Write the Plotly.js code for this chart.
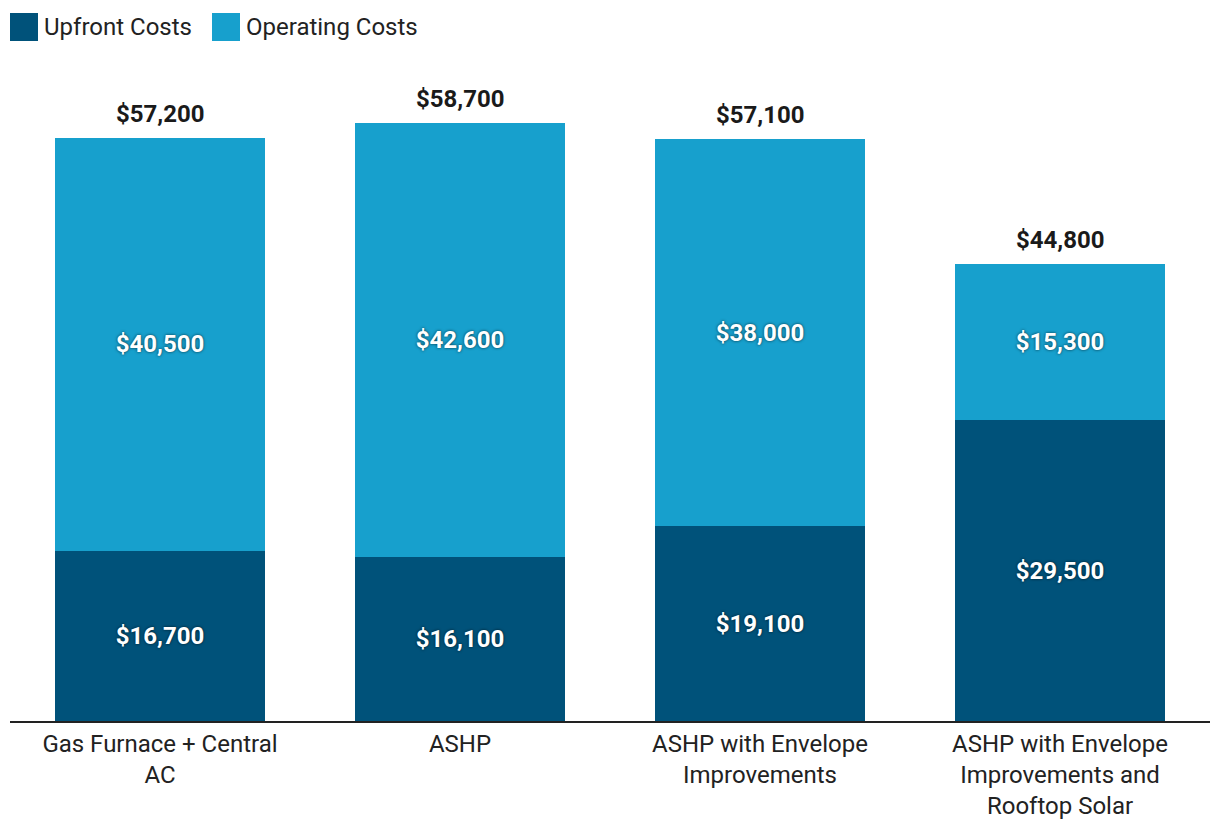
<!DOCTYPE html>
<html><head><meta charset="utf-8">
<script src="https://cdn.plot.ly/plotly-3.0.1.min.js"></script>
<style>html,body{margin:0;padding:0;background:#fff}#chart{width:1220px;height:834px}</style>
</head><body><div id="chart"></div>
<script>
const categories = ["Gas Furnace + Central<br>AC", "ASHP", "ASHP with Envelope<br>Improvements", "ASHP with Envelope<br>Improvements and<br>Rooftop Solar"];
const upfrontCosts = [16700, 16100, 19100, 29500];
const operatingCosts = [40500, 42600, 38000, 15300];
const totals = [57200, 58700, 57100, 44800];
const seriesNames = ["Upfront Costs", "Operating Costs"];
const colors = ["#00527A", "#17A0CD"];

const FONT = "Roboto, 'Open Sans', sans-serif";
const FS = 24;

const common = {
  type: "bar", x: categories, width: 0.7,
  textposition: "inside", insidetextanchor: "middle", constraintext: "none",
  texttemplate: "$%{y:,.0f}",
  insidetextfont: {family: FONT, size: FS, color: "#ffffff", weight: 700, shadow: "0px 0px 3px rgba(0,0,0,0.7)"},
  hoverinfo: "skip", showlegend: false
};
const traces = [
  Object.assign({}, common, {y: upfrontCosts, name: seriesNames[0], marker: {color: colors[0]}}),
  Object.assign({}, common, {y: operatingCosts, name: seriesNames[1], marker: {color: colors[1]}})
];

const annotations = categories.map((c, i) => ({
  x: c, y: totals[i], xref: "x", yref: "y", yanchor: "bottom", yshift: 8,
  text: "$" + totals[i].toLocaleString("en-US"), showarrow: false,
  font: {family: FONT, size: FS, color: "#1a1a1a", weight: 700}
}));

// custom legend
const plotTop = 80, plotBottom = 721, plotLeft = 10, plotRight = 1210;
const ph = plotBottom - plotTop, pw = plotRight - plotLeft;
const px = v => (v - plotLeft) / pw;
const py = v => (plotBottom - v) / ph;
const legendItems = [{x0: 10, tx: 42}, {x0: 212, tx: 244}];
const shapes = legendItems.map((it, i) => ({
  type: "rect", xref: "paper", yref: "paper",
  x0: px(it.x0), x1: px(it.x0 + 28), y0: py(41), y1: py(13),
  fillcolor: colors[i], line: {width: 0}
}));
legendItems.forEach((it, i) => annotations.push({
  xref: "paper", yref: "paper", x: px(it.tx), y: py(27), xanchor: "left", yanchor: "middle",
  text: seriesNames[i], showarrow: false,
  font: {family: FONT, size: FS, color: "#222222"}
}));

const layout = {
  width: 1220, height: 834,
  margin: {l: plotLeft, r: 1220 - plotRight, t: plotTop, b: 834 - plotBottom, pad: 0},
  barmode: "stack", bargap: 0.3,
  paper_bgcolor: "#ffffff", plot_bgcolor: "#ffffff",
  font: {family: FONT, size: FS, color: "#222222"},
  xaxis: {showline: true, linecolor: "#222222", linewidth: 2, ticks: "", showgrid: false,
          tickfont: {family: FONT, size: FS, color: "#222222"}, automargin: false},
  yaxis: {range: [0, 62893], visible: false, showgrid: false, zeroline: false, fixedrange: true},
  annotations: annotations, shapes: shapes
};
Plotly.newPlot("chart", traces, layout, {displayModeBar: false, staticPlot: true});
</script></body></html>
